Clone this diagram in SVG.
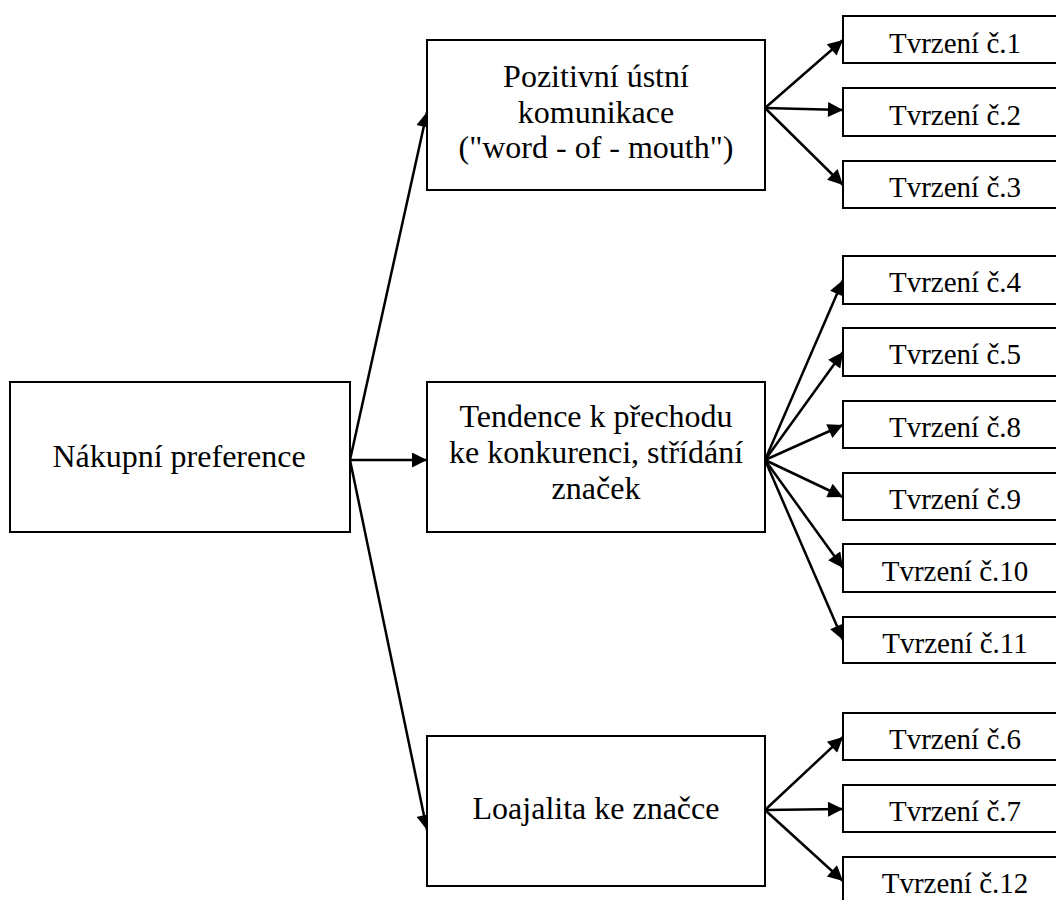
<svg xmlns="http://www.w3.org/2000/svg" width="1056" height="900" viewBox="0 0 1056 900">
  <style>
    .box { fill: #fff; stroke: #000; stroke-width: 2; }
    .lbl { font-family: "Liberation Serif", "Times New Roman", serif; fill: #000; text-anchor: middle; }
    .big { font-size: 32px; }
    .small { font-size: 29px; }
    .arrow { stroke: #000; stroke-width: 2.5; fill: none; marker-end: url(#head); }
  </style>
  <defs>
    <marker id="head" viewBox="0 0 10 10" refX="10" refY="5" markerWidth="7" markerHeight="6" markerUnits="strokeWidth" orient="auto">
      <path d="M0,0 L10,5 L0,10 z" fill="#000"/>
    </marker>
  </defs>
  <rect width="1056" height="900" fill="#fff"/>

  <g id="connectors">
    <line class="arrow" x1="350" y1="460" x2="427" y2="112"/>
    <line class="arrow" x1="350" y1="460" x2="427" y2="460"/>
    <line class="arrow" x1="350" y1="460" x2="427" y2="830"/>

    <line class="arrow" x1="765" y1="108" x2="843" y2="40"/>
    <line class="arrow" x1="765" y1="108" x2="843" y2="110"/>
    <line class="arrow" x1="765" y1="108" x2="843" y2="185"/>

    <line class="arrow" x1="765" y1="460" x2="843" y2="280"/>
    <line class="arrow" x1="765" y1="460" x2="843" y2="352"/>
    <line class="arrow" x1="765" y1="460" x2="843" y2="425"/>
    <line class="arrow" x1="765" y1="460" x2="843" y2="497"/>
    <line class="arrow" x1="765" y1="460" x2="843" y2="568"/>
    <line class="arrow" x1="765" y1="460" x2="843" y2="640"/>

    <line class="arrow" x1="765" y1="810" x2="843" y2="737"/>
    <line class="arrow" x1="765" y1="810" x2="843" y2="809"/>
    <line class="arrow" x1="765" y1="810" x2="843" y2="881"/>
  </g>

  <g id="root">
    <rect class="box" x="10" y="382" width="340" height="150"/>
    <text class="lbl big" x="179" y="467">Nákupní preference</text>
  </g>

  <g id="wom">
    <rect class="box" x="427" y="40" width="338" height="150"/>
    <text class="lbl big" x="596" y="87">Pozitivní ústní</text>
    <text class="lbl big" x="596" y="123">komunikace</text>
    <text class="lbl big" x="596" y="158">("word - of - mouth")</text>
  </g>

  <g id="switching">
    <rect class="box" x="427" y="382" width="338" height="150"/>
    <text class="lbl big" x="596" y="427">Tendence k přechodu</text>
    <text class="lbl big" x="596" y="463">ke konkurenci, střídání</text>
    <text class="lbl big" x="596" y="499">značek</text>
  </g>

  <g id="loyalty">
    <rect class="box" x="427" y="736" width="338" height="150"/>
    <text class="lbl big" x="596" y="819">Loajalita ke značce</text>
  </g>

  <g id="t1"><rect class="box" x="843" y="16" width="220" height="47"/><text class="lbl small" x="955" y="53">Tvrzení č.1</text></g>
  <g id="t2"><rect class="box" x="843" y="88" width="220" height="48"/><text class="lbl small" x="955" y="125">Tvrzení č.2</text></g>
  <g id="t3"><rect class="box" x="843" y="161" width="220" height="47"/><text class="lbl small" x="955" y="197">Tvrzení č.3</text></g>

  <g id="t4"><rect class="box" x="843" y="256" width="220" height="48"/><text class="lbl small" x="955" y="292">Tvrzení č.4</text></g>
  <g id="t5"><rect class="box" x="843" y="328" width="220" height="48"/><text class="lbl small" x="955" y="364">Tvrzení č.5</text></g>
  <g id="t8"><rect class="box" x="843" y="401" width="220" height="47"/><text class="lbl small" x="955" y="437">Tvrzení č.8</text></g>
  <g id="t9"><rect class="box" x="843" y="473" width="220" height="47"/><text class="lbl small" x="955" y="509">Tvrzení č.9</text></g>
  <g id="t10"><rect class="box" x="843" y="544" width="220" height="48"/><text class="lbl small" x="955" y="581">Tvrzení č.10</text></g>
  <g id="t11"><rect class="box" x="843" y="617" width="220" height="46"/><text class="lbl small" x="955" y="653">Tvrzení č.11</text></g>

  <g id="t6"><rect class="box" x="843" y="713" width="220" height="47"/><text class="lbl small" x="955" y="749">Tvrzení č.6</text></g>
  <g id="t7"><rect class="box" x="843" y="785" width="220" height="47"/><text class="lbl small" x="955" y="821">Tvrzení č.7</text></g>
  <g id="t12"><rect class="box" x="843" y="857" width="220" height="50"/><text class="lbl small" x="955" y="893">Tvrzení č.12</text></g>
</svg>
